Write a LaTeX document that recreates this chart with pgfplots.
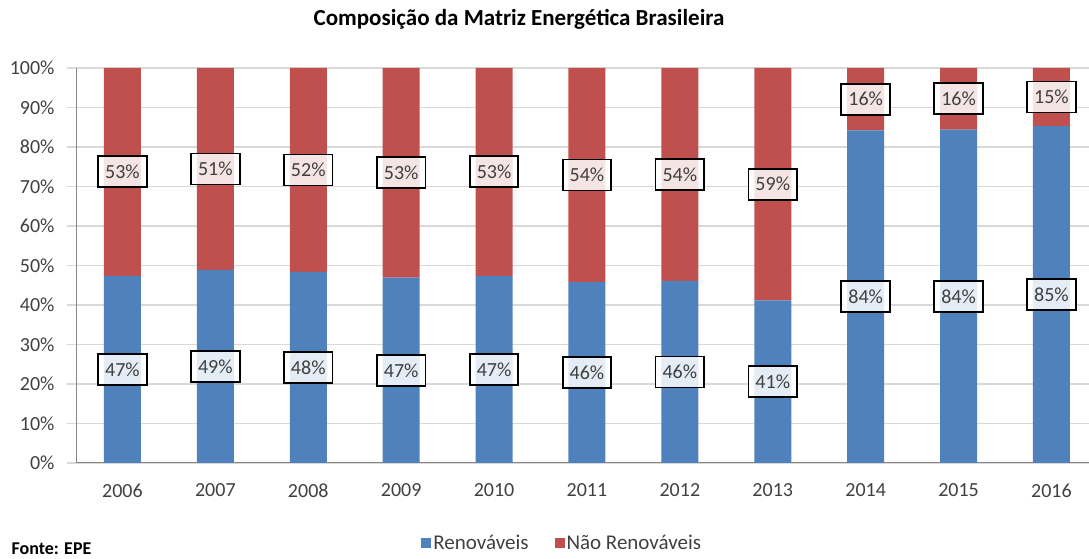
\documentclass[border=0pt]{standalone}
\usepackage{pgfplots}
\pgfplotsset{compat=1.18}
\usepackage{pgfplotstable}
\usepackage{fontspec}
\setmainfont{Carlito}
\definecolor{cblue}{HTML}{4F81BD}
\definecolor{cred}{HTML}{C0504D}
\definecolor{cgrid}{HTML}{D9D9D9}
\definecolor{caxis}{HTML}{868686}
\definecolor{ctext}{HTML}{404040}
\pgfplotstableread{
x r n lr ln
0 47.4 52.6 47 53
1 48.9 51.1 49 51
2 48.4 51.6 48 52
3 46.9 53.1 47 53
4 47.4 52.6 47 53
5 45.8 54.2 46 54
6 46.1 53.9 46 54
7 41.2 58.8 41 59
8 84.2 15.8 84 16
9 84.4 15.6 84 16
10 85.3 14.7 85 15
}\datatable
\begin{document}
\begin{tikzpicture}
\useasboundingbox (0,0) rectangle (1089pt,559pt);
\node[font=\fontsize{23}{23}\selectfont\bfseries] at (519pt,540pt) {Composição da Matriz Energética Brasileira};
\node[font=\fontsize{18}{18}\selectfont\bfseries, anchor=west] at (8pt,10pt) {Fonte: EPE};
\begin{axis}[
  at={(76pt,96pt)}, anchor=south west,
  scale only axis, width=1013pt, height=395pt,
  ybar stacked, bar width=37pt,
  xmin=-0.5, xmax=10.404, ymin=0, ymax=100,
  axis lines*=left,
  axis line style={draw=caxis, line width=1pt},
  xtick={0,...,10},
  xticklabels={2006,2007,2008,2009,2010,2011,2012,2013,2014,2015,2016},
  x tick style={draw=none},
  extra x ticks={-0.5,0.5,...,9.5},
  extra x tick labels={},
  extra x tick style={tick style={draw=caxis, line width=1pt}, major tick length=7pt, tick align=outside, xmajorgrids=false},
  ytick={0,10,...,100},
  yticklabel={\pgfmathprintnumber{\tick}\%},
  /pgf/number format/assume math mode=true,
  y tick style={draw=cgrid, line width=1.6pt},
  major tick length=9pt, tick align=outside,
  ymajorgrids, major grid style={draw=cgrid, line width=1.6pt},
  tick label style={font=\fontsize{20}{20}\selectfont, text=ctext},
  yticklabel style={xshift=-9pt},
  xticklabel style={yshift=-8pt},
  legend columns=2,
  legend style={at={(0.48,-0.2025)}, anchor=center, draw=none, fill=none,
    font=\fontsize{21}{21}\selectfont, text=ctext,
    /tikz/every even column/.append style={column sep=24pt}},
  legend image code/.code={\fill[#1] (2pt,-5pt) rectangle (12pt,5pt);},
  nodes near coords={\pgfmathprintnumber{\pgfplotspointmeta}\%},
  point meta=explicit,
  every node near coord/.append style={anchor=center, fill=white, fill opacity=0.85,
    text opacity=1, draw=black, line width=1.8pt, text=ctext,
    inner xsep=7pt, inner ysep=4pt, minimum height=31pt,
    font=\fontsize{20}{20}\selectfont},
]
\addplot[fill=cblue, draw=none]
  table[x=x, y=r, meta=lr] {\datatable};
\addlegendentry{Renováveis}
\addplot[fill=cred, draw=none]
  table[x=x, y=n, meta=ln] {\datatable};
\addlegendentry{Não Renováveis}
\end{axis}
\end{tikzpicture}
\end{document}
